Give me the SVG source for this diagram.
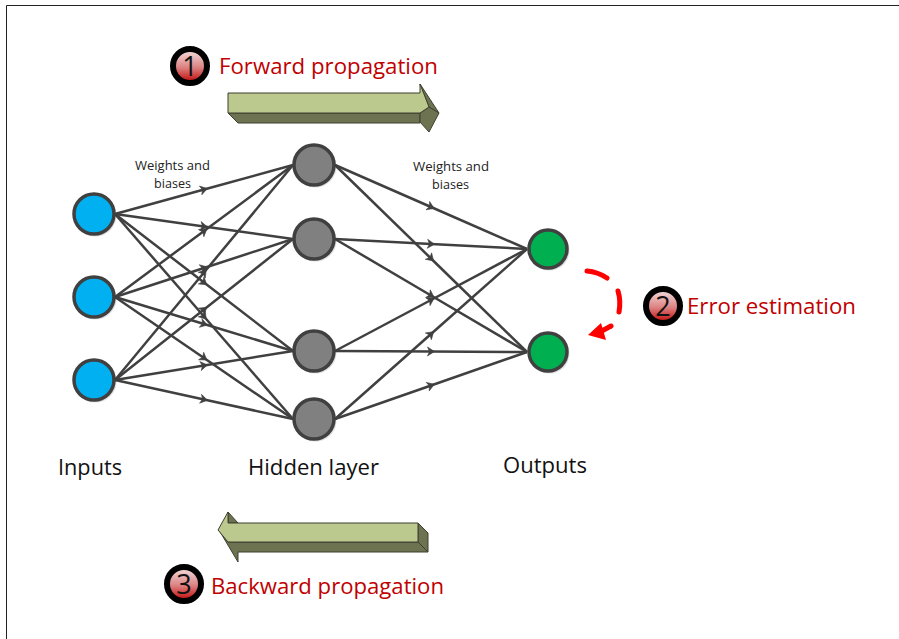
<svg xmlns="http://www.w3.org/2000/svg" width="899" height="639" viewBox="0 0 899 639">
<style>
text{font-family:"Open Sans","Noto Sans","Liberation Sans",sans-serif}
.lbl{font-size:22px;fill:#c00000}
.cap{font-size:22px;fill:#111}
.sm{font-size:13px;fill:#222}
.num{font-size:27px;fill:#111;text-anchor:middle}
.edge{fill:none;stroke:#404040;stroke-width:2.500;marker-mid:url(#mid)}
.node{stroke:#404040;stroke-width:3.500}
.shadow{fill:#000;fill-opacity:.13}
.in{fill:#00b0f0}.hid{fill:#808080}.out{fill:#00b050}
.badge{fill:url(#bg);stroke:#000;stroke-width:6}
.front{fill:#bbc98e;stroke:#3d4030;stroke-width:1;stroke-linejoin:round}
.side{fill:#6d7350;stroke:#3d4030;stroke-width:1;stroke-linejoin:round}
.dash{fill:none;stroke:#f00;stroke-width:5;stroke-linecap:round}
</style>
<defs>
<linearGradient id="bg" x1="0" y1="0" x2="0" y2="1"><stop offset="0" stop-color="#f4e4e4"/><stop offset=".55" stop-color="#dc8080"/><stop offset="1" stop-color="#c00000"/></linearGradient>
<marker id="mid" markerUnits="userSpaceOnUse" markerWidth="12" markerHeight="12" refX="6" refY="6" orient="auto"><path d="M2.500 1.500 L9.500 6 L2.500 10.500 L4.500 6 Z" fill="#404040" stroke="#404040" stroke-width=".6"/></marker>
</defs>
<rect width="899" height="639" fill="#fff"/>
<path d="M899 5.500H6.500V639" fill="none" stroke="#222" stroke-width="1"/>
<g id="connectors">
<polyline class="edge" points="115,214 204,189.500 293,165"/>
<polyline class="edge" points="115,214 204,226.500 293,239"/>
<polyline class="edge" points="115,214 204,282.500 293,351"/>
<polyline class="edge" points="115,214 204,316.500 293,419"/>
<polyline class="edge" points="115,297 204,231 293,165"/>
<polyline class="edge" points="115,297 204,268 293,239"/>
<polyline class="edge" points="115,297 204,324 293,351"/>
<polyline class="edge" points="115,297 204,358 293,419"/>
<polyline class="edge" points="115,380 204,272.500 293,165"/>
<polyline class="edge" points="115,380 204,309.500 293,239"/>
<polyline class="edge" points="115,380 204,365.500 293,351"/>
<polyline class="edge" points="115,380 204,399.500 293,419"/>
<polyline class="edge" points="335,165 431,207 527,249"/>
<polyline class="edge" points="335,165 431,258.500 527,352"/>
<polyline class="edge" points="335,239 431,244 527,249"/>
<polyline class="edge" points="335,239 431,295.500 527,352"/>
<polyline class="edge" points="335,351 431,300 527,249"/>
<polyline class="edge" points="335,351 431,351.500 527,352"/>
<polyline class="edge" points="335,419 431,334 527,249"/>
<polyline class="edge" points="335,419 431,385.500 527,352"/>
</g>
<g id="input-1"><circle class="shadow" cx="95.500" cy="215.500" r="21"/><circle class="node in" cx="94" cy="214" r="20"/></g>
<g id="input-2"><circle class="shadow" cx="95.500" cy="298.500" r="21"/><circle class="node in" cx="94" cy="297" r="20"/></g>
<g id="input-3"><circle class="shadow" cx="95.500" cy="381.500" r="21"/><circle class="node in" cx="94" cy="380" r="20"/></g>
<g id="hidden-1"><circle class="shadow" cx="315.500" cy="166.500" r="21"/><circle class="node hid" cx="314" cy="165" r="20"/></g>
<g id="hidden-2"><circle class="shadow" cx="315.500" cy="240.500" r="21"/><circle class="node hid" cx="314" cy="239" r="20"/></g>
<g id="hidden-3"><circle class="shadow" cx="315.500" cy="352.500" r="21"/><circle class="node hid" cx="314" cy="351" r="20"/></g>
<g id="hidden-4"><circle class="shadow" cx="315.500" cy="420.500" r="21"/><circle class="node hid" cx="314" cy="419" r="20"/></g>
<g id="output-1"><circle class="shadow" cx="549.500" cy="250.500" r="20"/><circle class="node out" cx="548" cy="249" r="19"/></g>
<g id="output-2"><circle class="shadow" cx="549.500" cy="353.500" r="20"/><circle class="node out" cx="548" cy="352" r="19"/></g>
<g id="forward-arrow">
<polygon class="side" points="228,113 238,123 420,123 420,113"/>
<polygon class="side" points="420,84 439,113 429,107"/>
<polygon class="side" points="429,107 439,113 429,132 420,122 420,113"/>
<polygon class="front" points="228,93 420,93 420,84 429,107 420,113 228,113"/>
</g>
<g id="backward-arrow">
<polygon class="side" points="418,523 428,533 428,552 418,542"/>
<polygon class="side" points="228,542 418,542 428,552 238,552 238,562 219,530"/>
<polygon class="side" points="228,512 238,523 228,523"/>
<polygon class="front" points="228,523 418,523 418,542 228,542 218,530 228,512"/>
</g>
<g id="badge-1"><circle class="badge" cx="190" cy="66" r="17"/><text class="num" x="190" y="76">1</text></g>
<text class="lbl" x="219" y="74" textLength="219" lengthAdjust="spacingAndGlyphs">Forward propagation</text>
<g id="badge-2"><circle class="badge" cx="663" cy="306" r="17"/><text class="num" x="663" y="316">2</text></g>
<text class="lbl" x="687" y="314" textLength="169" lengthAdjust="spacingAndGlyphs">Error estimation</text>
<g id="badge-3"><circle class="badge" cx="184" cy="584" r="17"/><text class="num" x="184" y="594">3</text></g>
<text class="lbl" x="211" y="594" textLength="233" lengthAdjust="spacingAndGlyphs">Backward propagation</text>
<g id="error-loop">
<path class="dash" d="M587 271 Q598 272 607 278"/>
<path class="dash" d="M618 291 Q621 301 619 312"/>
<path class="dash" d="M611 326 L600 332"/>
<polygon points="588,335 601,323 606,340" fill="#f00"/>
</g>
<text class="sm" x="135" y="170" textLength="75" lengthAdjust="spacingAndGlyphs">Weights and</text>
<text class="sm" x="154" y="188" textLength="37" lengthAdjust="spacingAndGlyphs">biases</text>
<text class="sm" x="413" y="171" textLength="76" lengthAdjust="spacingAndGlyphs">Weights and</text>
<text class="sm" x="432" y="189" textLength="37" lengthAdjust="spacingAndGlyphs">biases</text>
<text class="cap" x="58" y="475" textLength="64" lengthAdjust="spacingAndGlyphs">Inputs</text>
<text class="cap" x="248" y="475" textLength="131" lengthAdjust="spacingAndGlyphs">Hidden layer</text>
<text class="cap" x="503" y="473" textLength="84" lengthAdjust="spacingAndGlyphs">Outputs</text>
</svg>
